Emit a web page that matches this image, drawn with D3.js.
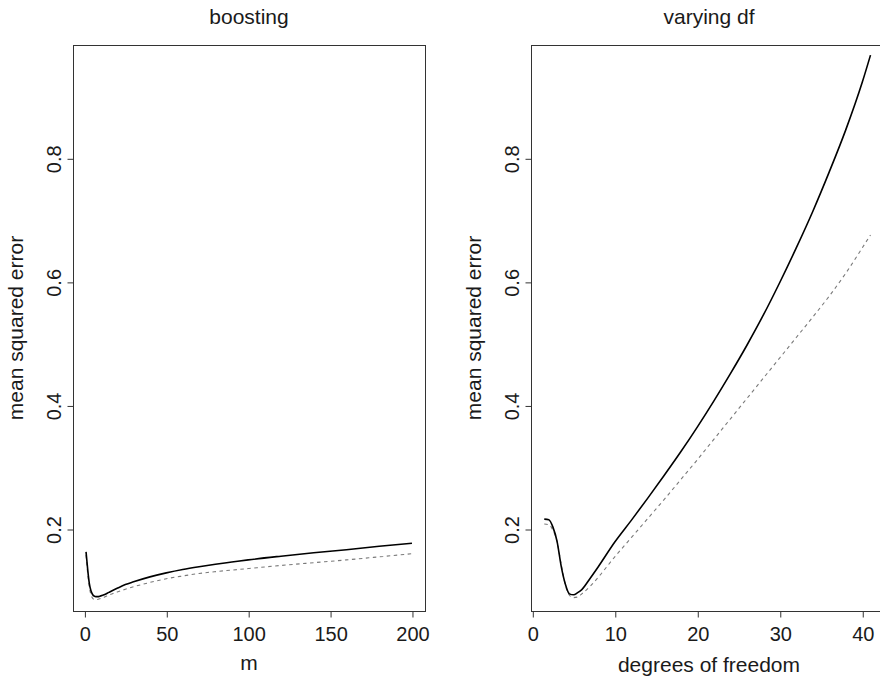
<!DOCTYPE html>
<html>
<head>
<meta charset="utf-8">
<script src="https://cdn.jsdelivr.net/npm/d3@7"></script>
<style>
  html, body { margin: 0; padding: 0; background: #fff; }
  svg { display: block; }
  text { font-family: "Liberation Sans", Arial, Helvetica, sans-serif; fill: #1a1a1a; }
</style>
</head>
<body>
<svg id="chart" width="880" height="676"></svg>
<script>
// ---------------- data ----------------
const boostM = [1, 2, 3, 4, 5, 6, 7, 8, 10, 12, 15, 20, 25, 30, 40, 50, 60, 70, 80, 90, 100, 120, 140, 160, 180, 200];
const boostSolid = [0.163, 0.135, 0.112, 0.100, 0.094, 0.0915, 0.0905, 0.0905, 0.0918, 0.0935, 0.0975, 0.104, 0.110, 0.1145, 0.1225, 0.129, 0.1345, 0.139, 0.143, 0.1465, 0.150, 0.156, 0.1615, 0.1665, 0.172, 0.177];
const boostDashed = [0.158, 0.128, 0.106, 0.094, 0.088, 0.086, 0.0855, 0.086, 0.0875, 0.0895, 0.093, 0.098, 0.1025, 0.1065, 0.1135, 0.1195, 0.124, 0.128, 0.131, 0.1335, 0.136, 0.141, 0.1455, 0.150, 0.155, 0.160];

const dfVals = [1.45, 2.0, 2.5, 3.0, 3.5, 4.0, 4.5, 5.0, 5.5, 6, 7, 8, 10, 12, 14, 16, 18, 20, 22, 24, 26, 28, 30, 32, 34, 36, 38, 40, 41];
const dfSolid = [0.216, 0.215, 0.203, 0.180, 0.140, 0.111, 0.095, 0.0935, 0.097, 0.102, 0.120, 0.139, 0.179, 0.214, 0.250, 0.287, 0.325, 0.365, 0.407, 0.451, 0.497, 0.546, 0.599, 0.655, 0.714, 0.778, 0.846, 0.923, 0.967];
const dfDashed = [0.208, 0.207, 0.198, 0.180, 0.143, 0.110, 0.093, 0.089, 0.090, 0.095, 0.107, 0.122, 0.155, 0.186, 0.217, 0.248, 0.280, 0.312, 0.345, 0.378, 0.411, 0.444, 0.477, 0.510, 0.543, 0.577, 0.614, 0.655, 0.676];

const boostTicks = [0, 50, 100, 150, 200];
const dfTicks = [0, 10, 20, 30, 40];
const yTicks = [0.2, 0.4, 0.6, 0.8];

const titles = ["boosting", "varying df"];
const xLabels = ["m", "degrees of freedom"];
const yLabel = "mean squared error";

// ---------------- layout ----------------
const svg = d3.select("#chart");
const yDomain = [0.0673, 0.9834];
const plotTop = 45, plotBottom = 611;

const panels = [
  { left: 73, right: 425, xDomain: [-6.96, 207.96], x: boostM, solid: boostSolid, dashed: boostDashed,
    ticks: boostTicks, title: titles[0], xlab: xLabels[0], xlabY: 670 },
  { left: 531, right: 887, xDomain: [-0.158, 43.0], x: dfVals, solid: dfSolid, dashed: dfDashed,
    ticks: dfTicks, title: titles[1], xlab: xLabels[1], xlabY: 672 }
];

panels.forEach(p => {
  const x = d3.scaleLinear().domain(p.xDomain).range([p.left, p.right]);
  const y = d3.scaleLinear().domain(yDomain).range([plotBottom, plotTop]);
  const g = svg.append("g");

  // box
  g.append("rect")
    .attr("x", p.left + 0.5).attr("y", plotTop + 0.5)
    .attr("width", p.right - p.left).attr("height", plotBottom - plotTop)
    .attr("fill", "none").attr("stroke", "#333").attr("stroke-width", 1);

  // x axis
  const xa = g.append("g").attr("transform", `translate(0.5,${plotBottom + 0.5})`)
    .call(d3.axisBottom(x).tickValues(p.ticks).tickSize(6).tickSizeOuter(0).tickPadding(4).tickFormat(d3.format("d")));
  xa.select(".domain").remove();
  xa.selectAll(".tick line").attr("stroke", "#333");
  xa.selectAll(".tick text").attr("font-size", 20).attr("fill", "#1a1a1a")
    .attr("font-family", "Liberation Sans, Arial, sans-serif")
    .attr("dy", null).attr("y", 29);

  // y axis
  const ya = g.append("g").attr("transform", `translate(${p.left + 0.5},0.5)`)
    .call(d3.axisLeft(y).tickValues(yTicks).tickSize(6).tickSizeOuter(0).tickFormat(d3.format(".1f")));
  ya.select(".domain").remove();
  ya.selectAll(".tick line").attr("stroke", "#333");
  ya.selectAll(".tick text")
    .attr("font-size", 20).attr("fill", "#1a1a1a")
    .attr("font-family", "Liberation Sans, Arial, sans-serif")
    .attr("x", null).attr("dy", null)
    .attr("text-anchor", "middle")
    .attr("transform", "translate(-13,0) rotate(-90)");

  // lines
  const lineGen = vals => d3.line()
    .x((d, i) => x(p.x[i]))
    .y(d => y(d))
    .curve(d3.curveMonotoneX)(vals);

  g.append("path").attr("d", lineGen(p.dashed))
    .attr("fill", "none").attr("stroke", "#7a7a7a").attr("stroke-width", 1.1)
    .attr("stroke-dasharray", "3.5,3.5");
  g.append("path").attr("d", lineGen(p.solid))
    .attr("fill", "none").attr("stroke", "#000").attr("stroke-width", 1.6);

  // title
  g.append("text").attr("x", (p.left + p.right) / 2).attr("y", 24)
    .attr("text-anchor", "middle").attr("font-size", 21).text(p.title);

  // x label
  g.append("text").attr("x", (p.left + p.right) / 2).attr("y", p.xlabY)
    .attr("text-anchor", "middle").attr("font-size", 21).text(p.xlab);

  // y label
  g.append("text")
    .attr("transform", `translate(${p.left - 50},${(plotTop + plotBottom) / 2}) rotate(-90)`)
    .attr("text-anchor", "middle").attr("font-size", 21).text(yLabel);
});
</script>
</body>
</html>
